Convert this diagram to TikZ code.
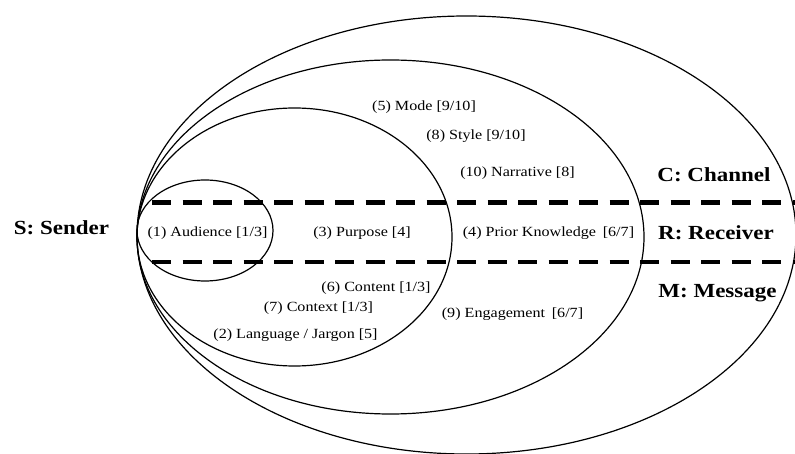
\documentclass[tikz,border=0pt]{standalone}
\usepackage{fontspec}
\setmainfont{Liberation Serif}
\begin{document}
\begin{tikzpicture}[x=1pt,y=-1pt,
  ell/.style={draw, line width=1.2pt},
  sep/.style={line width=4.5pt, dash pattern=on 19pt off 11.5pt},
  lbl/.style={font=\fontsize{14}{16}\selectfont, xscale=1.15, transform shape, anchor=base, inner sep=0pt},
  cat/.style={font=\bfseries\fontsize{20}{22}\selectfont, xscale=1.15, transform shape, anchor=base, inner sep=0pt}]
\useasboundingbox (0,0) rectangle (795,454);
% nested ellipses
\draw[ell] (466.5,235) ellipse [x radius=329.5, y radius=219];
\draw[ell] (390.5,237) ellipse [x radius=253.5, y radius=177];
\draw[ell] (294.5,237) ellipse [x radius=157.5, y radius=129];
\draw[ell] (205,230.5) ellipse [x radius=68, y radius=50.5];
% dashed separators
\coordinate (d1a) at (152,202.5);
\coordinate (d1b) at (800,202.5);
\coordinate (d2a) at (152,262);
\coordinate (d2b) at (800,262);
\draw[sep] (d1a) -- (d1b);
\draw[sep] (d2a) -- (d2b);
% category labels
\node[cat] (S) at (61.5,235) {S: Sender};
\node[cat] (C) at (714,182) {C: Channel};
\node[cat] (R) at (716,240) {R: Receiver};
\node[cat] (M) at (717.5,298) {M: Message};
% factor labels
\node[lbl] (f1) at (207.5,236.5) {(1) Audience [1/3]};
\node[lbl] (f3) at (362,237) {(3) Purpose [4]};
\node[lbl] (f4) at (548.5,237) {(4) Prior Knowledge\, [6/7]};
\node[lbl] (f5) at (424,111) {(5) Mode [9/10]};
\node[lbl] (f8) at (476,140) {(8) Style [9/10]};
\node[lbl] (f10) at (517.5,177) {(10) Narrative [8]};
\node[lbl] (f6) at (376,291) {(6) Content [1/3]};
\node[lbl] (f7) at (318.5,312) {(7) Context [1/3]};
\node[lbl] (f2) at (295.5,338) {(2) Language / Jargon [5]};
\node[lbl] (f9) at (512.5,318) {(9) Engagement\, [6/7]};
\end{tikzpicture}
\end{document}
